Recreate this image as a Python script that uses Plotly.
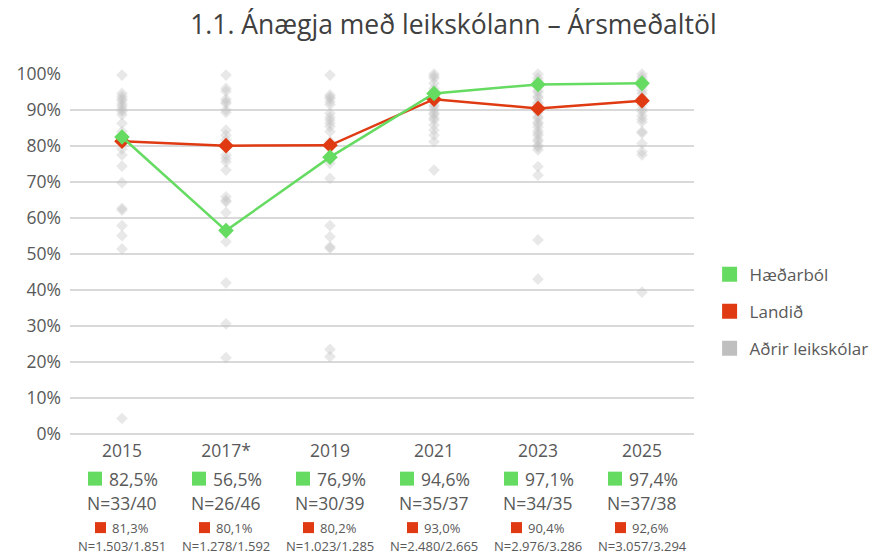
import plotly.graph_objects as go

# gögn
years = ["2015", "2017*", "2019", "2021", "2023", "2025"]
haedarbol = [82.5, 56.5, 76.9, 94.6, 97.1, 97.4]
haedarbol_n = ["N=33/40", "N=26/46", "N=30/39", "N=35/37", "N=34/35", "N=37/38"]
landid = [81.3, 80.1, 80.2, 93.0, 90.4, 92.6]
landid_n = ["N=1.503/1.851", "N=1.278/1.592", "N=1.023/1.285",
            "N=2.480/2.665", "N=2.976/3.286", "N=3.057/3.294"]
y_ticks = [0, 10, 20, 30, 40, 50, 60, 70, 80, 90, 100]

# aðrir leikskólar, eitt sett fyrir hvert ár
adrir_2015 = [99.7, 94.6, 93.8, 93.1, 92.6, 91.7, 91.0, 90.2, 89.6, 88.7, 86.3, 84.0,
              82.4, 81.1, 79.2, 77.5, 74.4, 69.8, 62.7, 62.2, 57.9, 55.1, 51.4, 4.3]
adrir_2017 = [99.7, 96.0, 95.2, 93.0, 92.3, 91.8, 90.0, 89.3, 84.4, 83.0, 81.7, 77.5,
              76.6, 75.6, 73.3, 65.9, 64.9, 64.5, 61.5, 53.4, 42.0, 30.6, 21.2]
adrir_2019 = [99.7, 94.2, 93.6, 93.2, 92.3, 91.5, 89.1, 88.0, 87.2, 86.3, 85.4, 84.0,
              81.2, 75.2, 71.0, 57.9, 54.8, 52.0, 51.6, 23.5, 21.5]
adrir_2021 = [100.0, 99.4, 98.8, 97.4, 96.0, 95.3, 94.7, 93.7, 93.1, 92.4, 91.4, 90.9,
              90.1, 89.2, 88.7, 87.8, 87.2, 85.8, 84.4, 83.0, 81.2, 73.3]
adrir_2023 = [100.0, 98.9, 98.1, 97.0, 96.5, 95.4, 94.9, 93.8, 93.3, 92.1, 91.7, 90.6,
              90.1, 89.3, 88.2, 87.7, 86.6, 86.1, 85.3, 84.2, 83.5, 82.9, 81.8, 81.3,
              80.2, 79.7, 78.9, 74.3, 71.9, 53.9, 43.0]
adrir_2025 = [100.0, 99.2, 98.5, 97.6, 96.5, 95.4, 94.6, 93.5, 92.3, 91.5, 90.2, 89.6,
              88.4, 87.5, 86.7, 84.0, 83.6, 80.7, 78.4, 77.5, 39.4]
adrir = [adrir_2015, adrir_2017, adrir_2019, adrir_2021, adrir_2023, adrir_2025]

GREEN = "#66DB62"
RED = "#DF3A12"
GRAY = "#BFBFBF"
TXT = "#595959"
FONT = "Open Sans"

gx, gy = [], []
for yr, vals in zip(years, adrir):
    gx += [yr] * len(vals)
    gy += vals

fig = go.Figure()
fig.add_trace(go.Scatter(
    x=gx, y=gy, mode="markers", showlegend=False, cliponaxis=False,
    marker=dict(symbol="diamond", size=9, color="rgba(190,190,190,0.35)"),
))
fig.add_trace(go.Scatter(
    x=years, y=landid, mode="lines+markers", showlegend=False, cliponaxis=False,
    line=dict(color=RED, width=2.5),
    marker=dict(symbol="diamond", size=12, color=RED),
))
fig.add_trace(go.Scatter(
    x=years, y=haedarbol, mode="lines+markers", showlegend=False, cliponaxis=False,
    line=dict(color=GREEN, width=2.5),
    marker=dict(symbol="diamond", size=12, color=GREEN),
))

# legend bara ferningar
for name, col in [("Hæðarból", GREEN), ("Landið", RED), ("Aðrir leikskólar", GRAY)]:
    fig.add_trace(go.Scatter(
        x=[None], y=[None], mode="markers", name=name, legendgroup=name,
        marker=dict(symbol="square", size=15, color=col),
    ))

# taflan undir ásnum (x sem vísir í flokkinn)
ROW_G, ROW_GN, ROW_R, ROW_RN = -0.124, -0.193, -0.26, -0.31
for i in range(len(years)):
    fig.add_shape(type="rect", xref="x", yref="paper", xsizemode="pixel", ysizemode="pixel",
                  xanchor=i, yanchor=ROW_G, x0=-34, x1=-20, y0=-7, y1=7,
                  fillcolor=GREEN, line_width=0)
    fig.add_annotation(
        x=i, y=ROW_G, xref="x", yref="paper", showarrow=False, yanchor="middle", xshift=11,
        text=f"{haedarbol[i]:.1f}%".replace(".", ","),
        font=dict(family=FONT, size=17.5, color=TXT),
    )
    fig.add_annotation(
        x=i, y=ROW_GN, xref="x", yref="paper", showarrow=False, yanchor="middle",
        text=haedarbol_n[i], font=dict(family=FONT, size=17.5, color=TXT),
    )
    fig.add_shape(type="rect", xref="x", yref="paper", xsizemode="pixel", ysizemode="pixel",
                  xanchor=i, yanchor=ROW_R, x0=-27, x1=-16, y0=-5.5, y1=5.5,
                  fillcolor=RED, line_width=0)
    fig.add_annotation(
        x=i, y=ROW_R, xref="x", yref="paper", showarrow=False, yanchor="middle", xshift=8,
        text=f"{landid[i]:.1f}%".replace(".", ","),
        font=dict(family=FONT, size=13, color=TXT),
    )
    fig.add_annotation(
        x=i, y=ROW_RN, xref="x", yref="paper", showarrow=False, yanchor="middle",
        text=landid_n[i], font=dict(family=FONT, size=13, color=TXT),
    )

fig.update_layout(
    width=889, height=554,
    margin=dict(l=70, r=195, t=74, b=120),
    paper_bgcolor="white", plot_bgcolor="white",
    font=dict(family=FONT, color=TXT),
    title=dict(text="1.1. Ánægja með leikskólann – Ársmeðaltöl", x=0.51, xanchor="center",
               y=0.955, yanchor="middle", font=dict(family=FONT, size=26.5, color="#404040")),
    legend=dict(x=1.025, y=0.34, yanchor="middle", xanchor="left",
                font=dict(family=FONT, size=17, color=TXT), tracegroupgap=12),
)
fig.update_xaxes(
    type="category", range=[-0.5, 5.5], showgrid=False, showline=False, ticks="",
    tickfont=dict(family=FONT, size=17.5, color=TXT), ticklabelstandoff=4,
)
fig.update_yaxes(
    range=[0, 100], tickmode="array", tickvals=y_ticks,
    ticktext=[f"{v}%" for v in y_ticks],
    showgrid=True, gridcolor="#D9D9D9", gridwidth=1.5,
    zeroline=True, zerolinecolor="#D9D9D9", zerolinewidth=1.5,
    tickfont=dict(family=FONT, size=17.5, color=TXT), ticklabelstandoff=8,
)

fig.write_html("out.html", config={"displayModeBar": False},
               post_script="document.body.style.margin='0px';")
